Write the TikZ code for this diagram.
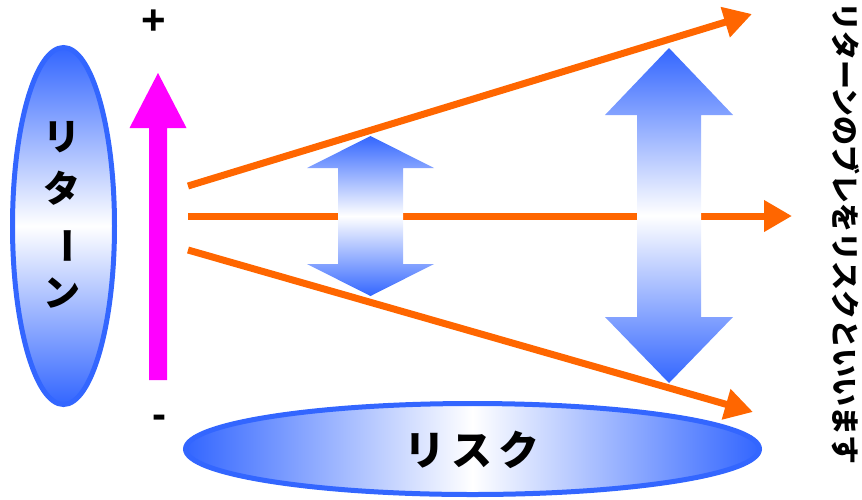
\documentclass[tikz,border=0pt]{standalone}
\usepackage{fontspec}
\usepackage{graphicx}
\usetikzlibrary{arrows.meta,shapes.geometric}
\newfontfamily\jp{Noto Sans CJK JP}
\newfontfamily\lsans{Liberation Sans}
\definecolor{rblue}{HTML}{3366FF}
\definecolor{rorange}{HTML}{FF6600}
\definecolor{rmag}{HTML}{FF00FF}
\begin{document}
\begin{tikzpicture}[x=1pt,y=-1pt,
  oval/.style={ellipse, draw=rblue, line width=5pt, inner sep=0pt},
  vgrad/.style={top color=rblue, bottom color=rblue, middle color=white},
  hgrad/.style={left color=rblue, right color=rblue, middle color=white},
  ray/.style={draw=rorange, line width=7pt, -{Triangle[length=28pt,width=30pt]}},
  jplabel/.style={font=\jp\bfseries, text=black, inner sep=0pt},
  sign/.style={font=\lsans\bfseries\fontsize{42}{42}\selectfont, inner sep=0pt},
]
\useasboundingbox (0,0) rectangle (862,499);

% left ellipse
\node[oval, vgrad, minimum width=102pt, minimum height=357pt] (ret) at (63.5,226) {};
\node[jplabel, font=\jp\bfseries\fontsize{37}{52}\selectfont, align=center] (rett) at (62,215)
  {リ\\タ\\\rotatebox[origin=c]{-90}{ー}\\ン};

% bottom ellipse
\node[oval, hgrad, minimum width=574pt, minimum height=91pt] (risk) at (472.5,449) {};
\node[jplabel, font=\jp\bfseries\fontsize{41}{48}\selectfont] (riskt) at (472,450)
  {リ\hspace{6pt}ス\hspace{6pt}ク};

% magenta arrow
\fill[rmag] (149,380) -- (149,128) -- (129.5,128) -- (158,73) -- (186.5,128) -- (167,128) -- (167,380) -- cycle;
\node[sign] (plus) at (154,22) {+};
\node[sign] (minus) at (159,422) {-};

% orange rays
\coordinate (t1) at (188,186); \coordinate (t2) at (752,14);
\coordinate (m1) at (188,216); \coordinate (m2) at (792,216);
\coordinate (b1) at (188,250); \coordinate (b2) at (753,412);
\draw[ray] (t1) -- (t2);
\draw[ray] (m1) -- (m2);
\draw[ray] (b1) -- (b2);

% double arrows
\shade[vgrad] (370.5,136) -- (434,168) -- (403,168) -- (403,264) -- (434,264) -- (370.5,296)
  -- (307,264) -- (338,264) -- (338,168) -- (307,168) -- cycle;
\shade[vgrad] (669,48) -- (733,115) -- (701,115) -- (701,317) -- (733,317) -- (669,383)
  -- (605,317) -- (637,317) -- (637,115) -- (605,115) -- cycle;

% right text
\node[jplabel, rotate=-90, anchor=west, font=\jp\bfseries\fontsize{29}{30}\selectfont] (note) at (846,2)
  {リターンのブレをリスクといいます};
\end{tikzpicture}
\end{document}
